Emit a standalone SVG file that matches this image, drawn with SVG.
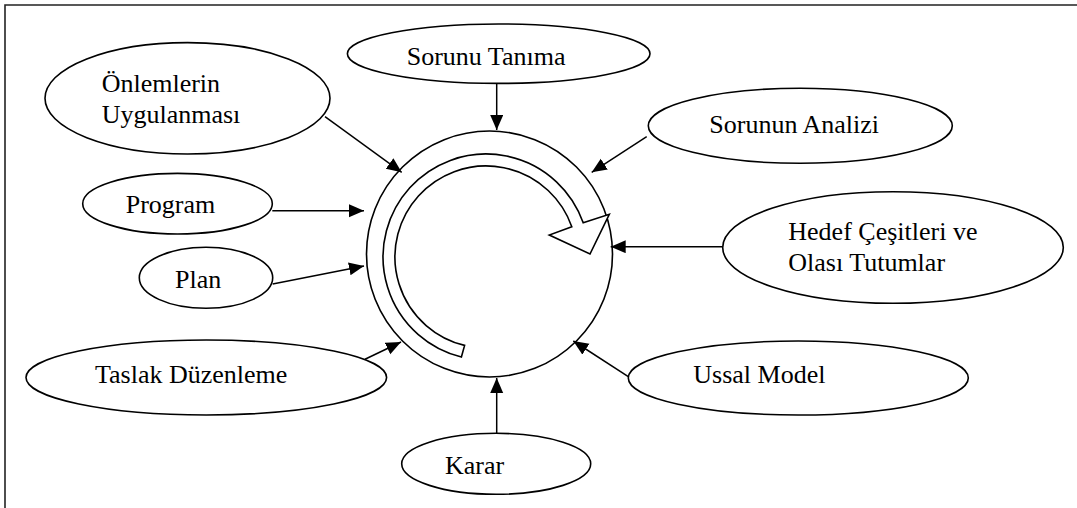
<svg xmlns="http://www.w3.org/2000/svg" width="1077" height="508" viewBox="0 0 1077 508">
<style>
.n ellipse{fill:#fff;stroke:#000;stroke-width:1.6}
.t{font-family:"Liberation Serif",Tinos,"Times New Roman","DejaVu Serif",serif;font-size:26px;fill:#000}
.c line{stroke:#000;stroke-width:1.5;marker-end:url(#ah)}
</style>
<defs>
<marker id="ah" markerUnits="userSpaceOnUse" markerWidth="16" markerHeight="14" refX="15" refY="6.5" orient="auto">
<path d="M0,0 L15,6.5 L0,13 Z" fill="#000"/>
</marker>
</defs>
<rect width="1077" height="508" fill="#fff"/>
<path d="M5,508 V5 H1077" fill="none" stroke="#222" stroke-width="1.6"/>
<g id="center">
<circle cx="489.5" cy="254" r="123" fill="#fff" stroke="#000" stroke-width="1.6"/>
<path d="M461.4,357 A103,103 0 1 1 583.2,222.8 L609.3,214.3 L590,254 L549.3,235 L571.8,226.8 A91,91 0 1 0 464.6,345.4 Z" fill="#fff" stroke="#000" stroke-width="1.6" stroke-linejoin="miter"/>
</g>
<g class="c" id="connectors">
<line x1="496.7" y1="83.3" x2="496.7" y2="130"/>
<line x1="325" y1="116.7" x2="401.7" y2="172.3"/>
<line x1="646.7" y1="136.7" x2="591.7" y2="172.3"/>
<line x1="272.3" y1="210.7" x2="364" y2="210.7"/>
<line x1="272.7" y1="284" x2="364" y2="266"/>
<line x1="722.7" y1="246.7" x2="610.7" y2="246.7"/>
<line x1="365" y1="359.3" x2="401" y2="342"/>
<line x1="628.3" y1="376.7" x2="573.3" y2="341"/>
<line x1="496.7" y1="433.3" x2="496.7" y2="378"/>
</g>
<g class="n" id="n-sorunu-tanima">
<ellipse cx="498.7" cy="53.7" rx="151.3" ry="29.7"/>
<text class="t" x="406.7" y="65">Sorunu Tanıma</text>
</g>
<g class="n" id="n-onlemlerin">
<ellipse cx="187.5" cy="98.3" rx="142.5" ry="55.7"/>
<text class="t" x="101.7" y="91.7">Önlemlerin</text>
<text class="t" x="101.7" y="122.7">Uygulanması</text>
</g>
<g class="n" id="n-sorunun-analizi">
<ellipse cx="800.3" cy="125.8" rx="152" ry="37.5"/>
<text class="t" x="709.3" y="133.3">Sorunun Analizi</text>
</g>
<g class="n" id="n-program">
<ellipse cx="177.5" cy="203.7" rx="94.8" ry="30.3"/>
<text class="t" x="125.7" y="213.3">Program</text>
</g>
<g class="n" id="n-plan">
<ellipse cx="206" cy="277.8" rx="66.7" ry="30.5"/>
<text class="t" x="175" y="288.3">Plan</text>
</g>
<g class="n" id="n-hedef">
<ellipse cx="893" cy="247.5" rx="170.3" ry="55.8"/>
<text class="t" x="788.3" y="240">Hedef Çeşitleri ve</text>
<text class="t" x="788.3" y="270.7">Olası Tutumlar</text>
</g>
<g class="n" id="n-taslak">
<ellipse cx="206.3" cy="377.5" rx="180.3" ry="37.5"/>
<text class="t" x="95" y="383.3">Taslak Düzenleme</text>
</g>
<g class="n" id="n-ussal">
<ellipse cx="798.3" cy="378" rx="170" ry="37"/>
<text class="t" x="693.3" y="383.3">Ussal Model</text>
</g>
<g class="n" id="n-karar">
<ellipse cx="496.2" cy="463.8" rx="94.5" ry="30.5"/>
<text class="t" x="445" y="474.3">Karar</text>
</g>
</svg>
